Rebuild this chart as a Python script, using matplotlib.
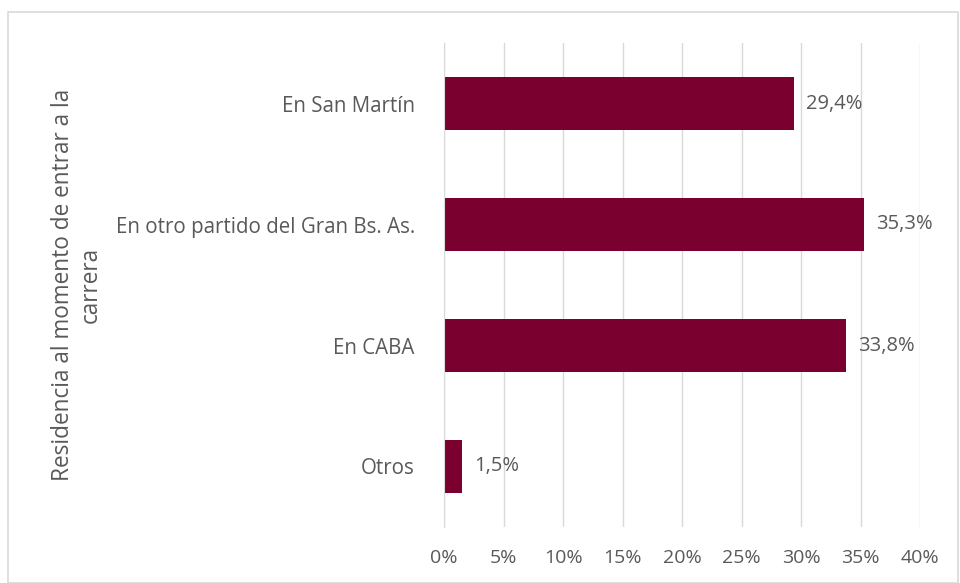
import matplotlib
matplotlib.use("Agg")
import matplotlib.pyplot as plt
from matplotlib.patches import Rectangle

categories = ["En San Martín", "En otro partido del Gran Bs. As.", "En CABA", "Otros"]
values = [29.4, 35.3, 33.8, 1.5]
value_labels = ["29,4%", "35,3%", "33,8%", "1,5%"]
xticks = [0, 5, 10, 15, 20, 25, 30, 35, 40]
xtick_labels = ["0%", "5%", "10%", "15%", "20%", "25%", "30%", "35%", "40%"]
ylabel = "Residencia al momento de entrar a la\ncarrera"

plt.rcParams['font.family'] = ['Open Sans', 'DejaVu Sans']
text_color = "#595959"
bar_color = "#7A0030"

fig = plt.figure(figsize=(9.6, 5.83), dpi=100)
fig.patches.append(Rectangle((8/960, 0), 1 - 10/960, 1 - 12/583, transform=fig.transFigure,
                             fill=False, edgecolor="#D9D9D9", linewidth=1.2))
ax = fig.add_axes([444/960, 1 - 527/583, (920-444)/960, (527-43)/583])

ypos = list(range(len(categories)))
ax.barh(ypos, values, height=0.43, color=bar_color, zorder=3)
for y, v, lab in zip(ypos, values, value_labels):
    ax.text(v + 1.0, y, lab, va="center", ha="left", fontsize=14.5, color=text_color)

ax.set_ylim(len(categories) - 0.5, -0.5)
ax.set_xlim(0, 40)
ax.set_yticks(ypos)
ax.set_yticklabels(categories, fontsize=14.8, color=text_color)
ax.set_xticks(xticks)
ax.set_xticklabels(xtick_labels, fontsize=14, color=text_color)
ax.tick_params(axis="both", length=0)
ax.tick_params(axis="y", pad=21)
ax.tick_params(axis="x", pad=16)
ax.grid(axis="x", color="#D9D9D9", linewidth=1, zorder=0)
for s in ["top", "right", "bottom"]:
    ax.spines[s].set_visible(False)
ax.spines["left"].set_color("#D9D9D9")
ax.spines["left"].set_zorder(4)
ax.set_ylabel(ylabel, fontsize=16.3, color=text_color, linespacing=1.2)
ax.yaxis.set_label_coords(-(444-103)/476, 0.5)

fig.savefig("out.png", dpi=100, facecolor="white")
